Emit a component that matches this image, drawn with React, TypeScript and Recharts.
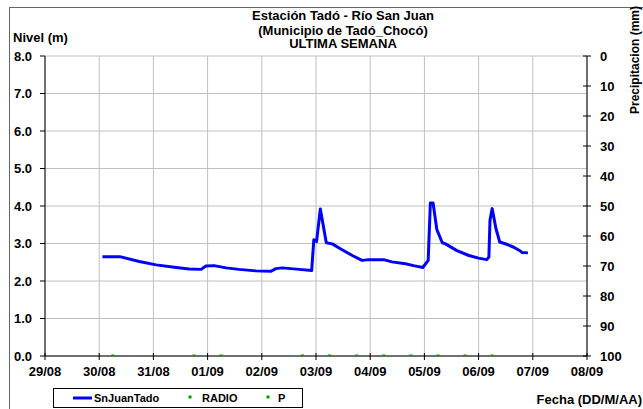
import { CartesianGrid, ComposedChart, Line, Scatter, XAxis, YAxis } from "recharts"

const FONT = '"Liberation Sans", Arial, sans-serif'

// x = days since 29/08 00:00
const dayLabels = ["29/08", "30/08", "31/08", "01/09", "02/09", "03/09", "04/09", "05/09", "06/09", "07/09", "08/09"]
const nivelTicks = [0, 1, 2, 3, 4, 5, 6, 7, 8]
const precTicks = [0, 10, 20, 30, 40, 50, 60, 70, 80, 90, 100]

const lineDays = [
  1.06, 1.38, 1.74, 2.05, 2.42, 2.66, 2.88, 2.97, 3.12, 3.34, 3.58, 3.89, 4.17, 4.26, 4.38, 4.69, 4.92, 4.96, 5.01,
  5.08, 5.19, 5.3, 5.45, 5.67, 5.85, 5.98, 6.25, 6.4, 6.65, 6.8, 6.97, 7.07, 7.11, 7.16, 7.23, 7.33, 7.39, 7.6, 7.82,
  8.0, 8.15, 8.19, 8.21, 8.25, 8.32, 8.39, 8.52, 8.65, 8.77, 8.8, 8.91,
]
const lineNivel = [
  2.65, 2.65, 2.52, 2.43, 2.36, 2.32, 2.31, 2.4, 2.41, 2.35, 2.31, 2.27, 2.26, 2.33, 2.35, 2.31, 2.28, 3.1, 3.05,
  3.92, 3.02, 2.99, 2.86, 2.68, 2.55, 2.57, 2.57, 2.51, 2.46, 2.41, 2.36, 2.55, 4.08, 4.08, 3.37, 3.02, 2.99, 2.81, 2.68,
  2.61, 2.57, 2.64, 3.62, 3.93, 3.4, 3.04, 2.98, 2.9, 2.8, 2.76, 2.75,
]

const radioDays = [1.25, 3.25, 5.25, 6.25, 7.25, 8.25]
const pDays = [2.75, 4.75, 5.75, 6.75, 7.75]

const lineData = lineDays.map((t, i) => ({ t, nivel: lineNivel[i] }))
const radioData = radioDays.map((t) => ({ t, v: 0 }))
const pData = pDays.map((t) => ({ t, v: 0 }))

const GREEN = "#009900"
const BLUE = "#0000ff"

function LeftTick({ x, y, payload }: any) {
  return (
    <text x={x} y={y} dy="0.36em" textAnchor="end" fontSize={13} fontWeight="bold" fontFamily={FONT} fill="#000">
      {Number(payload.value).toFixed(1)}
    </text>
  )
}

function RightTick({ x, y, payload }: any) {
  const axisX = x - 4 - 9
  return (
    <g>
      <line x1={axisX - 4} x2={axisX} y1={y} y2={y} stroke="#000" />
      <text x={x} y={y} dy="0.36em" textAnchor="start" fontSize={13} fontWeight="bold" fontFamily={FONT} fill="#000">
        {payload.value}
      </text>
    </g>
  )
}

function BottomTick({ x, y, payload }: any) {
  const axisY = y - 4 - 7
  return (
    <g>
      <line x1={x} x2={x} y1={axisY - 3} y2={axisY} stroke="#000" />
      <text x={x} y={y} dy="0.71em" textAnchor="middle" fontSize={13} fontWeight="bold" fontFamily={FONT} fill="#000">
        {dayLabels[payload.value]}
      </text>
    </g>
  )
}

function Dot({ cx, cy }: any) {
  return <rect x={cx - 1.5} y={cy - 1.5} width={3} height={3} fill={GREEN} />
}

export default function App() {
  return (
    <div
      style={{
        position: "absolute",
        left: 0,
        top: 0,
        width: 643,
        height: 409,
        overflow: "hidden",
        background: "#fff",
        fontFamily: FONT,
      }}
    >
      <div
        style={{
          position: "absolute",
          left: 9,
          top: 7,
          width: 700,
          height: 500,
          borderTop: "1px solid #666",
          borderLeft: "1px solid #666",
        }}
      />
      <div style={{ position: "absolute", left: 0, top: 0 }}>
        <ComposedChart width={643} height={409} margin={{ top: 56, right: 0, bottom: 28, left: 0 }}>
          <CartesianGrid yAxisId="left" stroke="#c0c0c0" strokeWidth={1} />
          <XAxis
            type="number"
            dataKey="t"
            domain={[0, 10]}
            allowDataOverflow
            ticks={dayLabels.map((_, i) => i)}
            interval={0}
            height={25}
            tickSize={4}
            tickMargin={7}
            axisLine={{ stroke: "#000" }}
            tickLine={{ stroke: "#000" }}
            tick={<BottomTick />}
          />
          <YAxis
            yAxisId="left"
            domain={[0, 8]}
            allowDataOverflow
            ticks={nivelTicks}
            interval={0}
            width={45}
            tickSize={5}
            tickMargin={8}
            axisLine={{ stroke: "#000" }}
            tickLine={{ stroke: "#000" }}
            tick={<LeftTick />}
          />
          <YAxis
            yAxisId="right"
            orientation="right"
            reversed
            type="number"
            domain={[0, 100]}
            allowDataOverflow
            ticks={precTicks}
            interval={0}
            width={56}
            tickSize={4}
            tickMargin={9}
            axisLine={{ stroke: "#000" }}
            tickLine={{ stroke: "#000" }}
            tick={<RightTick />}
          />
          <Scatter yAxisId="left" data={radioData} dataKey="v" shape={<Dot />} isAnimationActive={false} />
          <Scatter yAxisId="left" data={pData} dataKey="v" shape={<Dot />} isAnimationActive={false} />
          <Line
            yAxisId="left"
            data={lineData}
            dataKey="nivel"
            type="linear"
            stroke={BLUE}
            strokeWidth={3}
            dot={false}
            strokeLinejoin="round"
            isAnimationActive={false}
          />
        </ComposedChart>
      </div>
      <svg width={643} height={409} style={{ position: "absolute", left: 0, top: 0, pointerEvents: "none" }}>
        <g fontFamily={FONT} fontWeight="bold" fill="#000">
          <text x={343} y={20} fontSize={13} textAnchor="middle">Estación Tadó - Río San Juan</text>
          <text x={343} y={34.5} fontSize={13} textAnchor="middle">(Municipio de Tadó_Chocó)</text>
          <text x={343} y={48} fontSize={13} textAnchor="middle">ULTIMA SEMANA</text>
          <text x={13} y={41.5} fontSize={13}>Nivel (m)</text>
          <text x={642} y={403.5} fontSize={13} textAnchor="end">Fecha (DD/M/AA)</text>
          <text transform="translate(639 60) rotate(-90)" fontSize={12} textAnchor="middle">Precipitacion (mm)</text>
        </g>
        <rect x={53.5} y={388.5} width={249} height={19} fill="#fff" stroke="#000" />
        <line x1={73} x2={92} y1={398} y2={398} stroke={BLUE} strokeWidth={3} />
        <rect x={188.5} y={395.5} width={3} height={3} fill={GREEN} />
        <rect x={266.5} y={395.5} width={3} height={3} fill={GREEN} />
        <g fontFamily={FONT} fontWeight="bold" fontSize={11} fill="#000">
          <text x={94} y={402}>SnJuanTado</text>
          <text x={202} y={402}>RADIO</text>
          <text x={278} y={402}>P</text>
        </g>
      </svg>
    </div>
  )
}
